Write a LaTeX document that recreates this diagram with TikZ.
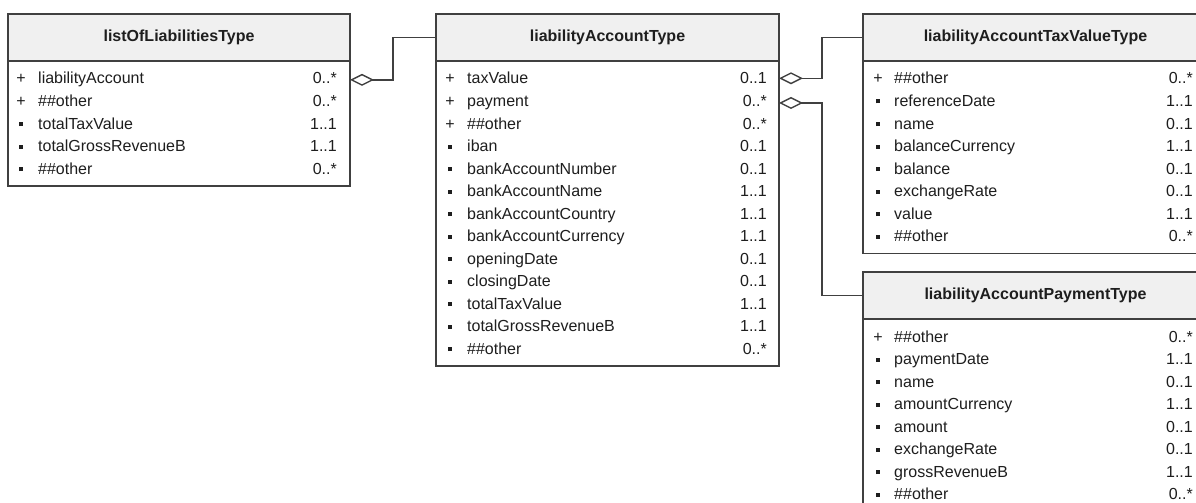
\documentclass[tikz,border=0pt]{standalone}
\usepackage{fontspec}
\setmainfont{Liberation Sans}
\usetikzlibrary{arrows.meta, positioning}
\definecolor{umlLine}{RGB}{64,64,64}
\definecolor{umlHead}{RGB}{240,240,240}
\definecolor{umlText}{RGB}{30,30,30}
\newcommand{\fsz}{\fontsize{16}{19}\selectfont}
\newcommand{\pl}{+}
\newcommand{\sq}{\raisebox{3pt}{\rule{4pt}{4pt}}}

\begin{document}
\begin{tikzpicture}[x=1pt, y=-1pt,
    hdr/.style={draw=umlLine, line width=1.4pt, fill=umlHead, anchor=north west,
      minimum height=47pt, inner sep=0pt, outer sep=0pt, font=\fsz\bfseries, text=umlText},
    bdy/.style={draw=umlLine, line width=1.4pt, fill=white, anchor=north west,
      inner sep=0pt, outer sep=0pt},
    mk/.style={anchor=base, inner sep=0pt, font=\fsz, text=umlText},
    nm/.style={anchor=base west, inner sep=0pt, font=\fsz, text=umlText},
    ml/.style={anchor=base east, inner sep=0pt, font=\fsz, text=umlText},
    agg/.style={{Diamond[open, length=24pt, width=12pt]}-, line width=1.4pt, draw=umlLine}
  ]
  \useasboundingbox (0,0) rectangle (1196,503);
  \clip (0,0) rectangle (1196,503);

  % listOfLiabilitiesType
  \node[hdr, minimum width=342pt] (lst) at (8,14) {listOfLiabilitiesType};
  \node[bdy, minimum width=342pt, minimum height=125pt] (lst-body) at (lst.south west) {};
  \foreach \m/\n/\c [count=\i] in {\pl/liabilityAccount/0..*, \pl/\#\#other/0..*,
      \sq/totalTaxValue/1..1, \sq/totalGrossRevenueB/1..1, \sq/\#\#other/0..*}{
    \path (lst.south west) ++(0,23+22.5*\i-22.5) coordinate (lst-y\i);
    \node[mk] (lst-m\i) at ([xshift=13pt]lst-y\i) {\m};
    \node[nm] (lst-n\i) at ([xshift=30pt]lst-y\i) {\n};
    \node[ml] (lst-c\i) at ([xshift=329pt]lst-y\i) {\c};
  }

  % liabilityAccountType
  \node[hdr, minimum width=343pt] (acc) at (436,14) {liabilityAccountType};
  \node[bdy, minimum width=343pt, minimum height=305pt] (acc-body) at (acc.south west) {};
  \foreach \m/\n/\c [count=\i] in {\pl/taxValue/0..1, \pl/payment/0..*, \pl/\#\#other/0..*,
      \sq/iban/0..1, \sq/bankAccountNumber/0..1, \sq/bankAccountName/1..1,
      \sq/bankAccountCountry/1..1, \sq/bankAccountCurrency/1..1, \sq/openingDate/0..1,
      \sq/closingDate/0..1, \sq/totalTaxValue/1..1, \sq/totalGrossRevenueB/1..1,
      \sq/\#\#other/0..*}{
    \path (acc.south west) ++(0,23+22.5*\i-22.5) coordinate (acc-y\i);
    \node[mk] (acc-m\i) at ([xshift=14pt]acc-y\i) {\m};
    \node[nm] (acc-n\i) at ([xshift=31pt]acc-y\i) {\n};
    \node[ml] (acc-c\i) at ([xshift=331pt]acc-y\i) {\c};
  }

  % liabilityAccountTaxValueType
  \node[hdr, minimum width=345pt] (tax) at (863,14) {liabilityAccountTaxValueType};
  \node[bdy, minimum width=345pt, minimum height=192.5pt] (tax-body) at (tax.south west) {};
  \foreach \m/\n/\c [count=\i] in {\pl/\#\#other/0..*, \sq/referenceDate/1..1,
      \sq/name/0..1, \sq/balanceCurrency/1..1, \sq/balance/0..1, \sq/exchangeRate/0..1,
      \sq/value/1..1, \sq/\#\#other/0..*}{
    \path (tax.south west) ++(0,23+22.5*\i-22.5) coordinate (tax-y\i);
    \node[mk] (tax-m\i) at ([xshift=15pt]tax-y\i) {\m};
    \node[nm] (tax-n\i) at ([xshift=31pt]tax-y\i) {\n};
    \node[ml] (tax-c\i) at ([xshift=330pt]tax-y\i) {\c};
  }

  % liabilityAccountPaymentType
  \node[hdr, minimum width=345pt] (pay) at (863,272) {liabilityAccountPaymentType};
  \node[bdy, minimum width=345pt, minimum height=192.5pt] (pay-body) at (pay.south west) {};
  \foreach \m/\n/\c [count=\i] in {\pl/\#\#other/0..*, \sq/paymentDate/1..1,
      \sq/name/0..1, \sq/amountCurrency/1..1, \sq/amount/0..1, \sq/exchangeRate/0..1,
      \sq/grossRevenueB/1..1, \sq/\#\#other/0..*}{
    \path (pay.south west) ++(0,23+22.5*\i-22.5) coordinate (pay-y\i);
    \node[mk] (pay-m\i) at ([xshift=15pt]pay-y\i) {\m};
    \node[nm] (pay-n\i) at ([xshift=31pt]pay-y\i) {\n};
    \node[ml] (pay-c\i) at ([xshift=330pt]pay-y\i) {\c};
  }

  % aggregations
  \draw[agg] (lst.east |- lst-n1) -- ++(43,0) |- (acc.west);
  \draw[agg] (acc.east |- acc-n1) -- ++(43,0) |- (tax.west);
  \draw[agg] (acc.east |- acc-n2) -- ++(43,0) |- (pay.west);
\end{tikzpicture}
\end{document}
